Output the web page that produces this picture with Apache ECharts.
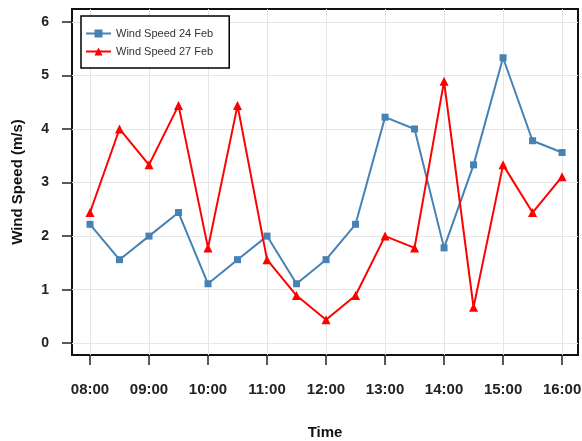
<!DOCTYPE html>
<html>
<head>
<meta charset="utf-8">
<script src="https://cdn.jsdelivr.net/npm/echarts@6/dist/echarts.min.js"></script>
<style>
  html, body { margin: 0; padding: 0; background: #fff; }
  #chart { width: 582px; height: 441px; }
</style>
</head>
<body>
<div id="chart"></div>
<script>
// half-hour readings
const times = ['08:00', '08:30', '09:00', '09:30', '10:00', '10:30', '11:00', '11:30', '12:00',
  '12:30', '13:00', '13:30', '14:00', '14:30', '15:00', '15:30', '16:00'];
const speed24Feb = [2.22, 1.56, 2.0, 2.44, 1.11, 1.56, 2.0, 1.11, 1.56, 2.22, 4.22, 4.0, 1.78, 3.33, 5.33, 3.78, 3.56];
const speed27Feb = [2.44, 4.0, 3.33, 4.44, 1.78, 4.44, 1.56, 0.89, 0.44, 0.89, 2.0, 1.78, 4.89, 0.67, 3.33, 2.44, 3.11];
const xTickLabels = ['08:00', '09:00', '10:00', '11:00', '12:00', '13:00', '14:00', '15:00', '16:00'];
const yTicks = [0, 1, 2, 3, 4, 5, 6];

const toHours = s => {
  const p = s.split(':');
  return Number(p[0]) + Number(p[1]) / 60;
};
const xTicks = xTickLabels.map(toHours);
const labelFor = {};
xTickLabels.forEach(l => { labelFor[toHours(l)] = l; });

const font = 'Liberation Sans, Arial, Helvetica, sans-serif';

let chartDom = document.getElementById('chart');
const myChart = echarts.init(chartDom);

option = {
  animation: false,
  textStyle: { fontFamily: font },
  grid: {
    left: 72, right: 4, top: 9, bottom: 86,
    outerBoundsMode: 'none',
    show: true, borderColor: '#111', borderWidth: 2
  },
  legend: {
    left: 81, top: 16,
    orient: 'vertical',
    backgroundColor: '#fff',
    borderColor: '#000', borderWidth: 1.5, borderRadius: 0,
    padding: [12, 16, 11, 4],
    itemWidth: 25, itemHeight: 10, itemGap: 7,
    textStyle: { fontSize: 11, color: '#333', fontFamily: font },
    data: ['Wind Speed 24 Feb', 'Wind Speed 27 Feb']
  },
  xAxis: {
    type: 'value',
    min: 7.695, max: 16.27,
    name: 'Time',
    nameLocation: 'middle',
    nameGap: 70,
    nameTextStyle: { fontSize: 15, fontWeight: 'bold', color: '#111', fontFamily: font },
    axisLine: { show: false, onZero: false },
    axisTick: { show: true, length: 10, customValues: xTicks, lineStyle: { color: '#222', width: 1.5 } },
    axisLabel: {
      customValues: xTicks, margin: 27,
      fontSize: 15, fontWeight: 'bold', color: '#222',
      formatter: v => labelFor[v] || ''
    },
    splitLine: { show: true, lineStyle: { color: '#e6e6e6', width: 1 } }
  },
  yAxis: {
    type: 'value',
    min: -0.22, max: 6.24,
    name: 'Wind Speed (m/s)',
    nameLocation: 'middle',
    nameGap: 47,
    nameTextStyle: { fontSize: 15, fontWeight: 'bold', color: '#111', fontFamily: font },
    axisLine: { show: false, onZero: false },
    axisTick: { show: true, length: 10, customValues: yTicks, lineStyle: { color: '#222', width: 1.5 } },
    axisLabel: {
      customValues: yTicks, margin: 23,
      fontSize: 14, fontWeight: 'bold', color: '#222'
    },
    splitLine: { show: true, lineStyle: { color: '#e6e6e6', width: 1 } }
  },
  series: [
    {
      name: 'Wind Speed 24 Feb',
      type: 'line',
      data: times.map((t, i) => [toHours(t), speed24Feb[i]]),
      symbol: 'rect', symbolSize: 7,
      lineStyle: { color: '#4682B4', width: 2 },
      itemStyle: { color: '#4682B4' }
    },
    {
      name: 'Wind Speed 27 Feb',
      type: 'line',
      data: times.map((t, i) => [toHours(t), speed27Feb[i]]),
      symbol: 'triangle', symbolSize: 9,
      lineStyle: { color: '#FF0000', width: 2 },
      itemStyle: { color: '#FF0000' }
    }
  ]
};

myChart.setOption(option);
</script>
</body>
</html>
